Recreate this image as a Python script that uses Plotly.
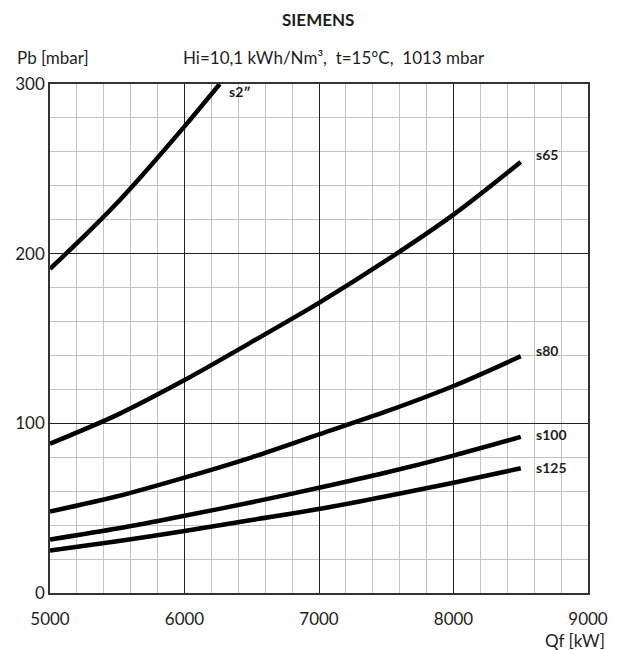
import plotly.graph_objects as go

# ---- data ----
s2_x = [5000, 5250, 5500, 5750, 6000, 6262]
s2_y = [191, 210, 230, 252, 275, 300]

s65_x = [5000, 5500, 6000, 6500, 7000, 7500, 8000, 8500]
s65_y = [88, 105, 125.5, 148, 171, 196, 223, 254]

s80_x = [5000, 5500, 6000, 6500, 7000, 7500, 8000, 8500]
s80_y = [48, 57, 68, 80, 93.5, 107, 122, 139.5]

s100_x = [5000, 5500, 6000, 6500, 7000, 7500, 8000, 8500]
s100_y = [31.5, 38, 45.5, 53.5, 62, 71, 81, 92]

s125_x = [5000, 5500, 6000, 6500, 7000, 7500, 8000, 8500]
s125_y = [25, 30.5, 36.5, 43, 49.5, 57, 65, 73.5]

x_ticks = [5000, 6000, 7000, 8000, 9000]
y_ticks = [0, 100, 200, 300]

series = [
    ("s2\u2033", s2_x, s2_y, 7, -7),
    ("s65", s65_x, s65_y, 13, 8),
    ("s80", s80_x, s80_y, 13, 6),
    ("s100", s100_x, s100_y, 13, 2),
    ("s125", s125_x, s125_y, 13, 1),
]

FONT = "Lato"
TXT = "#1e1e1e"

# figure geometry (page has an 8px body margin)
W, H = 613, 642
ML, MR, MT, MB = 42, 33, 76, 57
PW, PH = W - ML - MR, H - MT - MB


def page_annot(px, py, text, anchor="center", size=17, bold=False):
    fx, fy = px - 8, py - 8
    t = "<b>%s</b>" % text if bold else text
    return dict(x=(fx - ML) / PW, y=(H - MB - fy) / PH, xref="paper", yref="paper",
                text=t, showarrow=False, xanchor=anchor, yanchor="middle",
                font=dict(family=FONT, size=size, color=TXT))


fig = go.Figure()
anns = []
for name, xs, ys, dx, dy in series:
    fig.add_trace(go.Scatter(x=xs, y=ys, mode="lines", name=name,
                             line=dict(color="black", width=4.5, shape="spline", smoothing=0.8),
                             showlegend=False))
    anns.append(dict(x=xs[-1], y=ys[-1], xref="x", yref="y", text="<b>%s</b>" % name,
                     showarrow=False, xanchor="left", yanchor="middle",
                     xshift=dx, yshift=dy,
                     font=dict(family=FONT, size=14, color=TXT)))

anns.append(page_annot(318, 20, "SIEMENS", size=17, bold=True))
anns.append(page_annot(91, 58, "Pb [mbar]", anchor="right"))
anns.append(page_annot(181, 58, "Hi=10,1 kWh/Nm\u00b3,  t=15\u00b0C,  1013 mbar", anchor="left"))
anns.append(page_annot(607, 640, "Qf [kW]", anchor="right"))

fig.update_layout(
    width=W, height=H,
    margin=dict(l=ML, r=MR, t=MT, b=MB, autoexpand=False),
    paper_bgcolor="white", plot_bgcolor="white",
    font=dict(family=FONT, size=17, color=TXT),
    annotations=anns,
)

common = dict(showgrid=True, gridcolor="#222", gridwidth=1,
              showline=True, linecolor="#333", linewidth=1.5, mirror=True,
              zeroline=False, ticks="", tickfont=dict(family=FONT, size=17, color=TXT))
fig.update_xaxes(range=[5000, 9000], tickvals=x_ticks, ticktext=[str(v) for v in x_ticks],
                 minor=dict(dtick=200, showgrid=True, gridcolor="#c4c4c4", gridwidth=1.2),
                 ticklabelstandoff=10, **common)
fig.update_yaxes(range=[0, 300], tickvals=y_ticks, ticktext=[str(v) for v in y_ticks],
                 minor=dict(dtick=20, showgrid=True, gridcolor="#c4c4c4", gridwidth=1.2),
                 **common)

fig.write_html("out.html")
